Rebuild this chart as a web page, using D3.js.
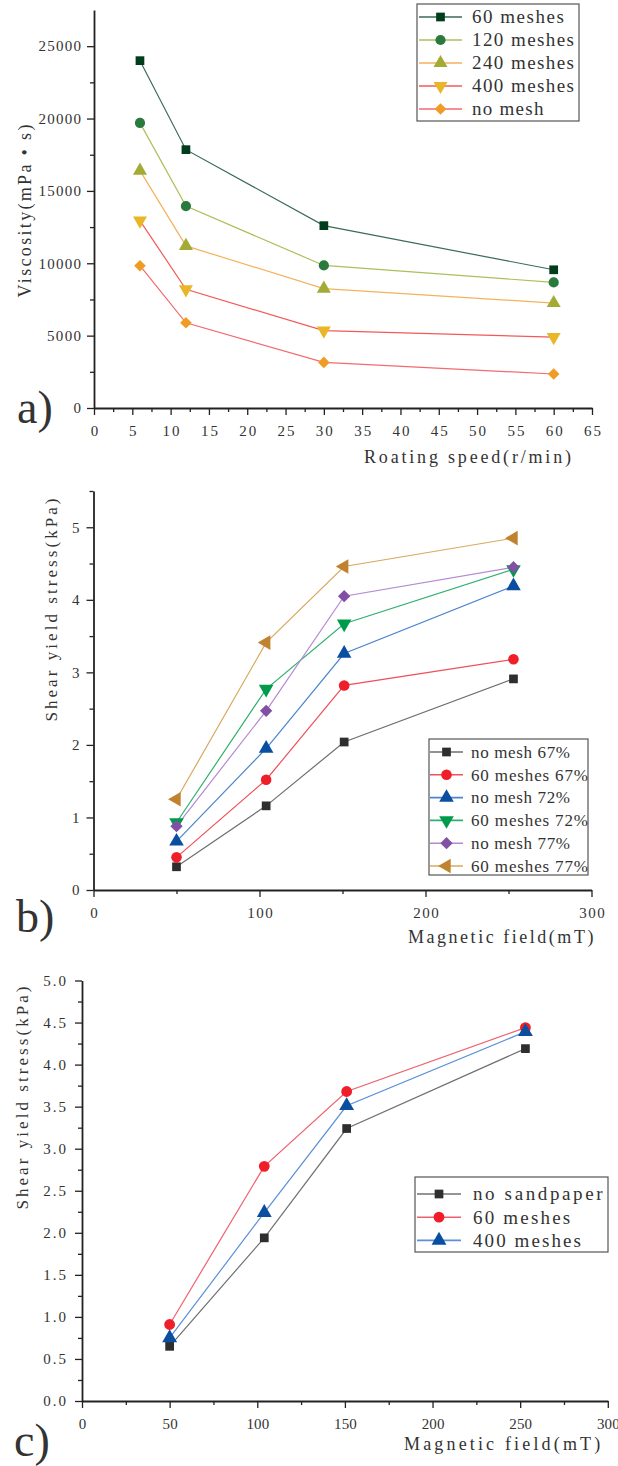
<!DOCTYPE html>
<html><head><meta charset="utf-8">
<script src="https://cdn.jsdelivr.net/npm/d3@7"></script>
<style>
body{margin:0;background:#fff;}
svg text{font-family:"Liberation Serif","DejaVu Serif",serif;fill:#333;}
</style></head>
<body>
<svg id="chart" width="618" height="1466"></svg>
<script>
// ---------- Panel a data ----------
const speedsA = [6, 12, 30, 60];
const seriesNamesA = ["60 meshes", "120 meshes", "240 meshes", "400 meshes", "no mesh"];
const visc60 = [24000, 17850, 12600, 9550];
const visc120 = [19700, 13950, 9850, 8680];
const visc240 = [16400, 11200, 8250, 7250];
const visc400 = [12950, 8200, 5350, 4900];
const viscNone = [9830, 5890, 3150, 2350];
const xTicksA = [0,5,10,15,20,25,30,35,40,45,50,55,60,65];
const yTicksA = [0,5000,10000,15000,20000,25000];

// ---------- Panel b data ----------
const fieldB = [50, 104, 151, 253];
const seriesNamesB = ["no mesh 67%", "60 meshes 67%", "no mesh 72%", "60 meshes 72%", "no mesh 77%", "60 meshes 77%"];
const stressNone67 = [0.32, 1.16, 2.04, 2.91];
const stress60m67 = [0.45, 1.52, 2.82, 3.18];
const stressNone72 = [0.67, 1.95, 3.26, 4.19];
const stress60m72 = [0.93, 2.77, 3.67, 4.42];
const stressNone77 = [0.88, 2.47, 4.05, 4.45];
const stress60m77 = [1.25, 3.41, 4.46, 4.85];
const xTicksB = [0,100,200,300];
const yTicksB = [0,1,2,3,4,5];

// ---------- Panel c data ----------
const fieldC = [50, 104, 151, 253];
const seriesNamesC = ["no sandpaper", "60 meshes", "400 meshes"];
const stressNoSand = [0.65, 1.94, 3.24, 4.19];
const stress60 = [0.91, 2.79, 3.68, 4.44];
const stress400 = [0.75, 2.24, 3.51, 4.39];
const xTicksC = [0,50,100,150,200,250,300];
const yTicksC = [0,0.5,1,1.5,2,2.5,3,3.5,4,4.5,5];

const svg = d3.select("#chart");

// monospace-like text (fixed advance per character)
function mono(sel, size, charW){
  sel.style("font-size", size+"px")
     .attr("textLength", function(){ return this.textContent.length*charW; })
     .attr("lengthAdjust","spacing");
}

function marker(type, size){
  const m = {
    square: d3.symbol(d3.symbolSquare, size),
    circle: d3.symbol(d3.symbolCircle, size),
    up: d3.symbol(d3.symbolTriangle, size),
    down: d3.symbol(d3.symbolTriangle, size),
    left: d3.symbol(d3.symbolTriangle, size),
    diamond: d3.symbol(d3.symbolSquare, size)
  }[type];
  const rot = {square:0, circle:0, up:0, down:180, left:-90, diamond:45}[type];
  return {path: m(), rot};
}

function panel(cfg){
  const g = svg.append("g");
  const x = d3.scaleLinear().domain(cfg.xDomain).range(cfg.xRange);
  const y = d3.scaleLinear().domain(cfg.yDomain).range(cfg.yRange);

  // minor ticks
  g.append("g").attr("transform",`translate(0,${cfg.yRange[0]})`)
    .call(d3.axisBottom(x).tickValues(cfg.xMinor).tickSize(4).tickFormat(""))
    .call(s=>s.select(".domain").remove());
  g.append("g").attr("transform",`translate(${cfg.xRange[0]},0)`)
    .call(d3.axisLeft(y).tickValues(cfg.yMinor).tickSize(4).tickFormat(""))
    .call(s=>s.select(".domain").remove());

  g.append("g").attr("transform",`translate(0,${cfg.yRange[0]})`)
    .call(d3.axisBottom(x).tickValues(cfg.xTicks).tickSize(7).tickPadding(cfg.xPad).tickSizeOuter(0));
  g.append("g").attr("transform",`translate(${cfg.xRange[0]},0)`)
    .call(d3.axisLeft(y).tickValues(cfg.yTicks).tickSize(7).tickPadding(cfg.yPad).tickSizeOuter(0).tickFormat(cfg.yFormat));
  g.selectAll(".domain").attr("stroke","#222").attr("stroke-width",1.8);
  g.selectAll(".tick line").attr("stroke","#222").attr("stroke-width",1.3);
  g.selectAll(".tick text").attr("fill","#555").style("font-family","'Liberation Serif',serif")
    .call(mono, cfg.tickFont, cfg.tickCharW);

  // series
  cfg.series.forEach(s=>{
    const line = d3.line().x((d,i)=>x(cfg.xVals[i])).y(d=>y(d));
    g.append("path").datum(s.values).attr("d",line)
      .attr("fill","none").attr("stroke",s.line).attr("stroke-width",1.2);
  });
  cfg.series.forEach(s=>{
    const m = marker(s.shape, s.size);
    g.selectAll(null).data(s.values).enter().append("path")
      .attr("d",m.path)
      .attr("transform",(d,i)=>`translate(${x(cfg.xVals[i])},${y(d)}) rotate(${m.rot})`)
      .attr("fill",s.marker);
  });

  // legend
  const L = cfg.legend;
  g.append("rect").attr("x",L.x0).attr("y",L.y0).attr("width",L.x1-L.x0).attr("height",L.y1-L.y0)
    .attr("fill","#fff").attr("stroke","#555").attr("stroke-width",1.2);
  cfg.series.forEach((s,i)=>{
    const yy = L.rowY + i*L.rowH;
    g.append("line").attr("x1",L.lineX0).attr("x2",L.lineX1).attr("y1",yy).attr("y2",yy)
      .attr("stroke",s.line).attr("stroke-width",1.6);
    const m = marker(s.shape, s.size);
    g.append("path").attr("d",m.path).attr("transform",`translate(${(L.lineX0+L.lineX1)/2},${yy}) rotate(${m.rot})`)
      .attr("fill",s.marker);
    g.append("text").attr("x",L.textX).attr("y",yy).attr("dy","0.34em")
      .attr("fill","#222").text(s.name).call(mono, L.font, L.charW);
  });

  // titles
  g.append("text").attr("x",cfg.xTitle.x).attr("y",cfg.xTitle.y)
    .attr("fill","#333").text(cfg.xTitle.text).call(mono, cfg.xTitle.size, cfg.xTitle.charW);
  g.append("text").attr("transform",`translate(${cfg.yTitle.x},${cfg.yTitle.y}) rotate(-90)`)
    .attr("text-anchor","middle").attr("dy","0.35em")
    .attr("fill","#555").text(cfg.yTitle.text).call(mono, cfg.yTitle.size, cfg.yTitle.charW);
  g.append("text").attr("x",cfg.tag.x).attr("y",cfg.tag.y)
    .style("font-size","46px").attr("fill","#111")
    .text(cfg.tag.text);
}

// ---------- Panel a ----------
panel({
  xDomain:[0,65], xRange:[94,592], yDomain:[0,27500], yRange:[408,10],
  xTicks:xTicksA, xMinor:d3.range(2.5,65,5), yTicks:yTicksA, yMinor:d3.range(2500,27500,5000),
  xPad:10, yPad:6, tickFont:15, tickCharW:8.5, yFormat:d3.format("d"),
  xVals:speedsA,
  series:[
    {name:seriesNamesA[0], values:visc60, line:"#3a6b58", marker:"#003d1c", shape:"square", size:76},
    {name:seriesNamesA[1], values:visc120, line:"#a9c15a", marker:"#2a7a3e", shape:"circle", size:82},
    {name:seriesNamesA[2], values:visc240, line:"#f3b25e", marker:"#a3ab35", shape:"up", size:85},
    {name:seriesNamesA[3], values:visc400, line:"#f25a5a", marker:"#e8b626", shape:"down", size:85},
    {name:seriesNamesA[4], values:viscNone, line:"#f26a70", marker:"#f09c24", shape:"diamond", size:68}
  ],
  legend:{x0:417,y0:4,x1:579,y1:121,rowY:17,rowH:23,lineX0:419,lineX1:462,textX:472,font:19,charW:10.2},
  xTitle:{text:"Roating speed(r/min)", x:364, y:463, size:18, charW:10.35},
  yTitle:{text:"Viscosity(mPa • s)", x:25, y:211, size:18, charW:9.6},
  tag:{text:"a)", x:17, y:423}
});

// ---------- Panel b ----------
panel({
  xDomain:[0,300], xRange:[93.5,591.5], yDomain:[0,5.5], yRange:[890,491],
  xTicks:xTicksB, xMinor:[50,150,250], yTicks:yTicksB, yMinor:[0.5,1.5,2.5,3.5,4.5,5.5],
  xPad:10, yPad:7, tickFont:15, tickCharW:8.5, yFormat:d3.format("d"),
  xVals:fieldB,
  series:[
    {name:seriesNamesB[0], values:stressNone67, line:"#6e6e6e", marker:"#2e2e2e", shape:"square", size:76},
    {name:seriesNamesB[1], values:stress60m67, line:"#f0505a", marker:"#f01e28", shape:"circle", size:88},
    {name:seriesNamesB[2], values:stressNone72, line:"#4a85d0", marker:"#0a4ea0", shape:"up", size:92},
    {name:seriesNamesB[3], values:stress60m72, line:"#30b070", marker:"#009a4c", shape:"down", size:92},
    {name:seriesNamesB[4], values:stressNone77, line:"#b48ad2", marker:"#8050a5", shape:"diamond", size:76},
    {name:seriesNamesB[5], values:stress60m77, line:"#d8a860", marker:"#c0822f", shape:"left", size:92}
  ],
  legend:{x0:429,y0:739,x1:588,y1:875,rowY:752,rowH:22.8,lineX0:430,lineX1:463,textX:471,font:17,charW:9},
  xTitle:{text:"Magnetic field(mT)", x:408, y:943, size:18, charW:10.3},
  yTitle:{text:"Shear yield stress(kPa)", x:51, y:610, size:17, charW:9.7},
  tag:{text:"b)", x:16, y:932}
});

// ---------- Panel c ----------
panel({
  xDomain:[0,300], xRange:[82,607.8], yDomain:[0,5], yRange:[1401,980.5],
  xTicks:xTicksC, xMinor:d3.range(25,300,50), yTicks:yTicksC, yMinor:d3.range(0.25,5,0.5),
  xPad:10, yPad:9, tickFont:15, tickCharW:7.6, yFormat:d3.format(".1f"),
  xVals:fieldC,
  series:[
    {name:seriesNamesC[0], values:stressNoSand, line:"#707070", marker:"#2e2e2e", shape:"square", size:76},
    {name:seriesNamesC[1], values:stress60, line:"#f06070", marker:"#f01e28", shape:"circle", size:92},
    {name:seriesNamesC[2], values:stress400, line:"#5a90d8", marker:"#0a4ea0", shape:"up", size:96}
  ],
  legend:{x0:415,y0:1177,x1:608,y1:1252,rowY:1194,rowH:23.2,lineX0:417,lineX1:461,textX:473,font:19,charW:10.8},
  xTitle:{text:"Magnetic field(mT)", x:404, y:1450, size:18, charW:10.9},
  yTitle:{text:"Shear yield stress(kPa)", x:22, y:1098, size:17, charW:9.7},
  tag:{text:"c)", x:14, y:1456}
});
</script>
</body></html>
